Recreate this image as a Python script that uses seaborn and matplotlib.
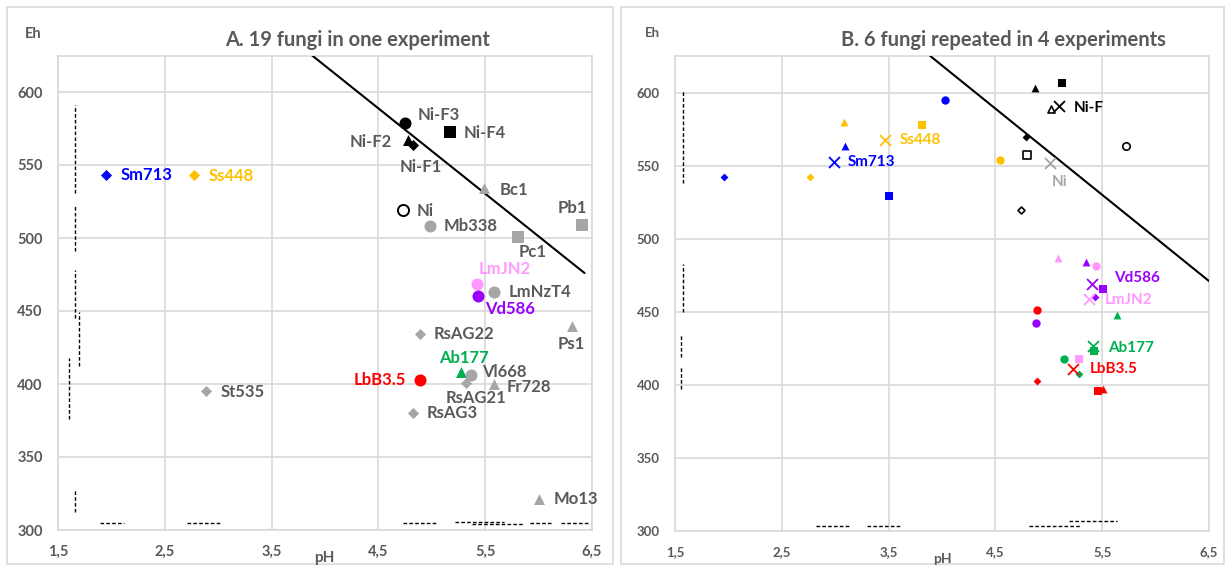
import matplotlib
matplotlib.use("Agg")
import matplotlib.pyplot as plt
from matplotlib.patches import Rectangle
import seaborn as sns
import pandas as pd
import numpy as np

# ---------------- DATA ----------------
# Panel A: 19 fungi in one experiment (+ Ni controls)
names_A = ["Sm713", "Ss448", "Ni-F3", "Ni-F2", "Ni-F1", "Ni-F4", "Bc1", "Ni", "Mb338",
           "Pc1", "Pb1", "LmJN2", "LmNzT4", "Vd586", "Ps1", "RsAG22", "Ab177", "Vl668",
           "RsAG21", "Fr728", "LbB3.5", "St535", "RsAG3", "Mo13"]
ph_A = [1.95, 2.77, 4.75, 4.78, 4.82, 5.17, 5.49, 4.73, 4.98,
        5.81, 6.41, 5.42, 5.58, 5.43, 6.31, 4.89, 5.27, 5.37,
        5.32, 5.58, 4.89, 2.89, 4.82, 6.00]
eh_A = [543, 543, 579, 567, 564, 572.5, 534, 519.5, 508.5,
        501, 509, 468.5, 463, 460.5, 440, 434, 408, 406.5,
        401, 400, 402.5, 395, 380, 321]

# Panel B: 6 fungi repeated in 4 experiments (+ Ni controls); last entry = mean (x)
fungi_B = ["Sm713", "Ss448", "Ni-F", "Ni", "Vd586", "LmJN2", "Ab177", "LbB3.5"]
ph_B_exp1 = [1.96, 2.76, 4.79, 4.74, 5.43, np.nan, 5.28, 4.885]
eh_B_exp1 = [542.4, 542.0, 569.6, 519.4, 460.3, np.nan, 407.7, 402.4]
ph_B_exp2 = [3.09, 3.085, 4.87, 5.02, 5.35, 5.09, 5.64, 5.51]
eh_B_exp2 = [563.6, 579.7, 602.8, 588.5, 484.3, 487.0, 447.7, 397.4]
ph_B_exp3 = [3.50, 3.816, 5.125, 4.80, 5.51, 5.28, 5.42, 5.46]
eh_B_exp3 = [529.5, 577.6, 606.5, 557.0, 465.8, 417.8, 423.0, 396.0]
ph_B_exp4 = [4.03, 4.545, np.nan, 5.72, 4.88, 5.445, 5.14, 4.89]
eh_B_exp4 = [594.7, 554.0, np.nan, 563.6, 442.5, 481.3, 417.8, 451.0]
ph_B_mean = [2.99, 3.47, 5.10, 5.01, 5.40, 5.38, 5.41, 5.23]
eh_B_mean = [552.3, 567.7, 590.8, 551.6, 468.8, 459.0, 426.5, 411.0]

# Regression lines (end points)
line_A_ph = [3.88, 6.43]
line_A_eh = [625, 476]
line_B_ph = [3.89, 6.50]
line_B_eh = [625, 471]

# Dashed segments: vertical (pH, Eh_low, Eh_high) and horizontal (Eh, pH_low, pH_high)
vseg_A = [(1.656, 531, 591), (1.656, 491, 522), (1.656, 445, 478),
          (1.694, 412, 449), (1.604, 376, 418), (1.656, 312, 328)]
hseg_A = [(305, 1.89, 2.12), (305, 2.71, 3.02), (305, 4.73, 5.05), (305.7, 5.22, 5.68),
          (304, 5.38, 5.85), (305, 5.92, 6.12), (305, 6.21, 6.48)]
vseg_B = [(1.574, 538, 601), (1.574, 450, 482.5), (1.555, 419, 434), (1.558, 397, 412)]
hseg_B = [(303.4, 2.82, 3.13), (303.4, 3.30, 3.61), (303.4, 4.81, 5.29), (307, 5.19, 5.64)]

xticks = [1.5, 2.5, 3.5, 4.5, 5.5, 6.5]
xtick_labels = ["1,5", "2,5", "3,5", "4,5", "5,5", "6,5"]
yticks = [300, 350, 400, 450, 500, 550, 600]
ytick_labels = ["300", "350", "400", "450", "500", "550", "600"]

# ---------------- STYLE ----------------
BLUE, ORANGE, GREEN, RED = "#0000FF", "#FFC000", "#00B050", "#FF0000"
PURPLE, PINK, GRAY, BLACK = "#9900FF", "#FF99FF", "#A6A6A6", "#000000"
TXT = "#595959"

marker_A = {"Sm713": ("D", BLUE), "Ss448": ("D", ORANGE), "Ni-F3": ("o", BLACK),
            "Ni-F2": ("^", BLACK), "Ni-F1": ("D", BLACK), "Ni-F4": ("s", BLACK),
            "Bc1": ("^", GRAY), "Ni": ("o", "open"), "Mb338": ("o", GRAY),
            "Pc1": ("s", GRAY), "Pb1": ("s", GRAY), "LmJN2": ("o", PINK),
            "LmNzT4": ("o", GRAY), "Vd586": ("o", PURPLE), "Ps1": ("^", GRAY),
            "RsAG22": ("D", GRAY), "Ab177": ("^", GREEN), "Vl668": ("o", GRAY),
            "RsAG21": ("D", GRAY), "Fr728": ("^", GRAY), "LbB3.5": ("o", RED),
            "St535": ("D", GRAY), "RsAG3": ("D", GRAY), "Mo13": ("^", GRAY)}
label_color_A = {"Sm713": BLUE, "Ss448": ORANGE, "LmJN2": PINK, "Vd586": PURPLE,
                 "Ab177": GREEN, "LbB3.5": RED}
# label offsets in pixels (dx right, dy down) and horizontal alignment
label_off_A = {"Sm713": (15, 0, "left"), "Ss448": (15, 1, "left"),
               "Ni-F3": (13, -8, "left"), "Ni-F2": (-16, 2, "right"),
               "Ni-F1": (8, 22, "center"), "Ni-F4": (14, 1, "left"),
               "Bc1": (15, 2, "left"), "Ni": (14, 1, "left"), "Mb338": (14, 0, "left"),
               "Pc1": (14, 15, "center"), "Pb1": (-10, -17, "center"),
               "LmJN2": (2, -15, "left"), "LmNzT4": (15, 0, "left"),
               "Vd586": (7, 13, "left"), "Ps1": (0, 18, "center"),
               "RsAG22": (14, 0, "left"), "Ab177": (3, -14, "center"),
               "Vl668": (11, -3, "left"), "RsAG21": (10, 15, "center"),
               "Fr728": (13, 3, "left"), "LbB3.5": (-14, 0, "right"),
               "St535": (14, 1, "left"), "RsAG3": (14, 0, "left"), "Mo13": (15, 0, "left")}
size_A = {"o": 75, "s": 72, "^": 62, "D": 32}

color_B = {"Sm713": BLUE, "Ss448": ORANGE, "Ni-F": BLACK, "Ni": "open",
           "Vd586": PURPLE, "LmJN2": PINK, "Ab177": GREEN, "LbB3.5": RED}
mean_color_B = {"Ni": GRAY}
label_color_B = {"Sm713": BLUE, "Ss448": ORANGE, "Ni-F": BLACK, "Ni": GRAY,
                 "Vd586": PURPLE, "LmJN2": PINK, "Ab177": GREEN, "LbB3.5": RED}
label_off_B = {"Sm713": (14, 0, "left"), "Ss448": (14, 0, "left"), "Ni-F": (14, 2, "left"),
               "Ni": (10, 19, "center"), "Vd586": (23, -6, "left"),
               "LmJN2": (15, 1, "left"), "Ab177": (15, 2, "left"), "LbB3.5": (16, 0, "left")}
size_B = {"o": 36, "s": 36, "^": 32, "D": 16, "x": 62}

sns.set_style("white")
plt.rcParams["font.family"] = ["Lato", "DejaVu Sans"]

W, H = 1229, 567
fig = plt.figure(figsize=(W / 100, H / 100), dpi=100)

# chart-area borders
for (x0, x1) in [(7, 613), (621, 1224)]:
    fig.patches.append(Rectangle((x0 / W, 3 / H), (x1 - x0) / W, (560 - 3) / H,
                                 transform=fig.transFigure, fill=False,
                                 edgecolor="#D9D9D9", linewidth=1.2))

axA = fig.add_axes([58 / W, (H - 530) / H, (592 - 58) / W, (530 - 55.5) / H])
axB = fig.add_axes([675 / W, (H - 531) / H, (1209 - 675) / W, (531 - 56) / H])


def setup(ax, tick_fs):
    ax.set_xlim(1.5, 6.5)
    ax.set_ylim(300, 625)
    ax.set_xticks(xticks, labels=xtick_labels, fontweight="bold", fontsize=tick_fs, color=TXT)
    ax.set_yticks(yticks, labels=ytick_labels, fontweight="bold", fontsize=tick_fs, color=TXT)
    ax.grid(True, color="#D9D9D9", linewidth=1.2)
    ax.set_axisbelow(True)
    for sp in ax.spines.values():
        sp.set_color("#D9D9D9")
        sp.set_linewidth(1.2)
    ax.tick_params(axis="both", length=0, pad=11)
    ax.set_xlabel("")
    ax.set_ylabel("")


def draw_segments(ax, vseg, hseg):
    for (x, y0, y1) in vseg:
        ax.plot([x, x], [y0, y1], color="black", lw=1.0, ls=(0, (2.6, 1.6)), zorder=2)
    for (y, x0, x1) in hseg:
        ax.plot([x0, x1], [y, y], color="black", lw=1.0, ls=(0, (2.6, 1.6)), zorder=2)


# ---------------- PANEL A ----------------
dfA = pd.DataFrame({"name": names_A, "pH": ph_A, "Eh": eh_A})
axA.plot(line_A_ph, line_A_eh, color="black", lw=1.5, zorder=3)
draw_segments(axA, vseg_A, hseg_A)
for _, r in dfA.iterrows():
    m, c = marker_A[r["name"]]
    if c == "open":
        sns.scatterplot(x=[r.pH], y=[r.Eh], marker=m, s=size_A[m] * 0.85, color="white",
                        edgecolor="black", linewidth=1.4, ax=axA, zorder=4, legend=False)
    else:
        sns.scatterplot(x=[r.pH], y=[r.Eh], marker=m, s=size_A[m], color=c,
                        linewidth=0, ax=axA, zorder=4, legend=False)
    dx, dy, ha = label_off_A[r["name"]]
    axA.annotate(r["name"], (r.pH, r.Eh), xytext=(dx * 0.72, -dy * 0.72),
                 textcoords="offset points", ha=ha, va="center", fontsize=12,
                 fontweight="bold", color=label_color_A.get(r["name"], TXT), zorder=5)
setup(axA, 10.5)

# ---------------- PANEL B ----------------
axB.plot(line_B_ph, line_B_eh, color="black", lw=1.5, zorder=3)
draw_segments(axB, vseg_B, hseg_B)
exps = [("D", ph_B_exp1, eh_B_exp1), ("^", ph_B_exp2, eh_B_exp2),
        ("s", ph_B_exp3, eh_B_exp3), ("o", ph_B_exp4, eh_B_exp4)]
for m, phs, ehs in exps:
    dfB = pd.DataFrame({"fungus": fungi_B, "pH": phs, "Eh": ehs}).dropna()
    for _, r in dfB.iterrows():
        c = color_B[r["fungus"]]
        if c == "open":
            sns.scatterplot(x=[r.pH], y=[r.Eh], marker=m, s=size_B[m] * 0.8, color="white",
                            edgecolor="black", linewidth=1.2, ax=axB, zorder=4, legend=False)
        else:
            sns.scatterplot(x=[r.pH], y=[r.Eh], marker=m, s=size_B[m], color=c,
                            linewidth=0, ax=axB, zorder=4, legend=False)
dfM = pd.DataFrame({"fungus": fungi_B, "pH": ph_B_mean, "Eh": eh_B_mean})
for _, r in dfM.iterrows():
    c = mean_color_B.get(r["fungus"], color_B[r["fungus"]])
    sns.scatterplot(x=[r.pH], y=[r.Eh], marker="x", s=size_B["x"], color=c,
                    linewidth=1.3, ax=axB, zorder=5, legend=False)
    dx, dy, ha = label_off_B[r["fungus"]]
    axB.annotate(r["fungus"], (r.pH, r.Eh), xytext=(dx * 0.72, -dy * 0.72),
                 textcoords="offset points", ha=ha, va="center", fontsize=11,
                 fontweight="bold", color=label_color_B[r["fungus"]], zorder=6)
setup(axB, 9.5)

# ---------------- TEXTS ----------------
def ftext(x, y, s, **kw):
    fig.text(x / W, 1 - y / H, s, **kw)

ftext(358, 40, "A. 19 fungi in one experiment", ha="center", va="center",
      fontsize=14.5, fontweight="bold", color=TXT)
ftext(1003, 40, "B. 6 fungi repeated in 4 experiments", ha="center", va="center",
      fontsize=14.5, fontweight="bold", color=TXT)
ftext(33, 34, "Eh", ha="center", va="center", fontsize=10.5, fontweight="bold", color=TXT)
ftext(652, 33, "Eh", ha="center", va="center", fontsize=9.5, fontweight="bold", color=TXT)
ftext(324, 558, "pH", ha="center", va="center", fontsize=11, fontweight="bold", color=TXT)
ftext(942, 559, "pH", ha="center", va="center", fontsize=10, fontweight="bold", color=TXT)

fig.savefig("out.png", dpi=100)
